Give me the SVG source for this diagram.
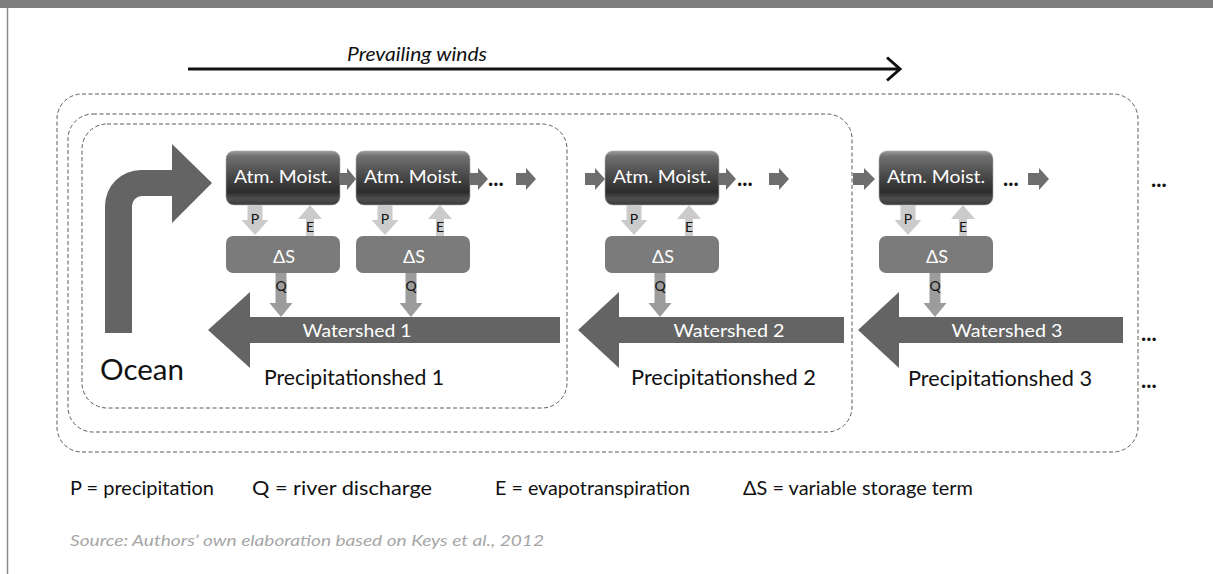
<svg xmlns="http://www.w3.org/2000/svg" width="1213" height="574" viewBox="0 0 1213 574">
<defs>
<linearGradient id="atmg" x1="0" y1="0" x2="0" y2="1">
<stop offset="0" stop-color="#9c9c9c"/>
<stop offset="0.1" stop-color="#707070"/>
<stop offset="0.45" stop-color="#4a4a4a"/>
<stop offset="0.76" stop-color="#2c2c2c"/>
<stop offset="0.88" stop-color="#4e4e4e"/>
<stop offset="1" stop-color="#3a3a3a"/>
</linearGradient>
</defs>
<style>
.dash{fill:none;stroke:#5a5a5a;stroke-width:1;stroke-dasharray:4 2.5}
.atm{fill:url(#atmg);stroke:#a8a8a8;stroke-width:0.6}
.ds{fill:#7b7b7b}
.t{font-family:Lato,"Liberation Sans",sans-serif}
.wt{fill:#ffffff;font-size:18px;text-anchor:middle}
.pe{fill:#cbcbcb}
.q{fill:#9c9c9c}
.lbl{font-size:14px;fill:#111111;text-anchor:middle}
.big{fill:#646464}
.sm{fill:#6e6e6e}
.dots{font-size:22px;font-weight:bold;fill:#111111}
.blk{fill:#111111}
.leg{font-size:19px}
</style>
<rect x="0" y="0" width="1213" height="8" fill="#7f7f7f"/>
<line x1="7.5" y1="8" x2="7.5" y2="574" stroke="#8a8a8a" stroke-width="1.5"/>

<g id="winds">
<text class="t blk" x="347" y="61" font-size="19" font-style="italic" textLength="140" lengthAdjust="spacingAndGlyphs">Prevailing winds</text>
<line x1="188" y1="69" x2="899" y2="69" stroke="#111" stroke-width="3"/>
<polyline points="887,57.5 900,69 887,80.5" fill="none" stroke="#111" stroke-width="3"/>
</g>

<g id="regions">
<rect class="dash" x="57" y="94" width="1081" height="358" rx="25"/>
<rect class="dash" x="68" y="114" width="784" height="318" rx="25"/>
<rect class="dash" x="82" y="124" width="485" height="284" rx="25"/>
</g>

<g id="ocean">
<path class="big" d="M105,333 L105,206 A36,36 0 0 1 141,170 L172,170 L172,144 L212,183 L172,223 L172,196 L142,196 A10,10 0 0 0 132,206 L132,333 Z"/>
<text class="t blk" x="100" y="380" font-size="28" textLength="84" lengthAdjust="spacingAndGlyphs">Ocean</text>
</g>

<g id="watershed1">
<path class="big" d="M560,317 H250 V292 L208,330 L250,368 V343 H560 Z"/>
<text class="t wt" x="357" y="337" textLength="109" lengthAdjust="spacingAndGlyphs">Watershed 1</text>
</g>
<g id="watershed2">
<path class="big" d="M844,317 H619 V292 L578,330 L619,368 V343 H844 Z"/>
<text class="t wt" x="729" y="337" textLength="111" lengthAdjust="spacingAndGlyphs">Watershed 2</text>
</g>
<g id="watershed3">
<path class="big" d="M1123,317 H899 V292 L858,330 L899,368 V343 H1123 Z"/>
<text class="t wt" x="1007" y="337" textLength="111" lengthAdjust="spacingAndGlyphs">Watershed 3</text>
</g>

<g id="precip1"><text class="t blk" x="264" y="385" font-size="21" textLength="180" lengthAdjust="spacingAndGlyphs">Precipitationshed 1</text></g>
<g id="precip2"><text class="t blk" x="631" y="385" font-size="21" textLength="185" lengthAdjust="spacingAndGlyphs">Precipitationshed 2</text></g>
<g id="precip3"><text class="t blk" x="908" y="386" font-size="21" textLength="184" lengthAdjust="spacingAndGlyphs">Precipitationshed 3</text></g>

<g id="atm1"><rect class="atm" x="226" y="151" width="114" height="54" rx="8"/><text class="t wt" x="283" y="183" textLength="98" lengthAdjust="spacingAndGlyphs">Atm. Moist.</text></g>
<g id="atm2"><rect class="atm" x="356" y="151" width="114" height="54" rx="8"/><text class="t wt" x="413" y="183" textLength="98" lengthAdjust="spacingAndGlyphs">Atm. Moist.</text></g>
<g id="atm3"><rect class="atm" x="605" y="151" width="114" height="54" rx="8"/><text class="t wt" x="662" y="183" textLength="98" lengthAdjust="spacingAndGlyphs">Atm. Moist.</text></g>
<g id="atm4"><rect class="atm" x="879" y="151" width="114" height="54" rx="8"/><text class="t wt" x="936" y="183" textLength="98" lengthAdjust="spacingAndGlyphs">Atm. Moist.</text></g>

<g id="ds1"><rect class="ds" x="226" y="236" width="114" height="37" rx="7"/><text class="t wt" x="284" y="263">ΔS</text></g>
<g id="ds2"><rect class="ds" x="356" y="236" width="114" height="37" rx="7"/><text class="t wt" x="414" y="263">ΔS</text></g>
<g id="ds3"><rect class="ds" x="605" y="236" width="114" height="37" rx="7"/><text class="t wt" x="663" y="263">ΔS</text></g>
<g id="ds4"><rect class="ds" x="879" y="236" width="114" height="37" rx="7"/><text class="t wt" x="937" y="263">ΔS</text></g>

<g id="connectors">
<path class="pe" d="M247.5,205 H262.5 V220 H268.5 L255,235 L241.5,220 H247.5 Z"/>
<path class="pe" d="M377.5,205 H392.5 V220 H398.5 L385,235 L371.5,220 H377.5 Z"/>
<path class="pe" d="M626.5,205 H641.5 V220 H647.5 L634,235 L620.5,220 H626.5 Z"/>
<path class="pe" d="M900.5,205 H915.5 V220 H921.5 L908,235 L894.5,220 H900.5 Z"/>
<path class="pe" d="M306,236 V219 H298 L310,205 L322,219 H314 V236 Z"/>
<path class="pe" d="M436,236 V219 H428 L440,205 L452,219 H444 V236 Z"/>
<path class="pe" d="M685,236 V219 H677 L689,205 L701,219 H693 V236 Z"/>
<path class="pe" d="M959,236 V219 H951 L963,205 L975,219 H967 V236 Z"/>
<path class="q" d="M275.5,273 H286.5 V303 H292.5 L281,317 L269.5,303 H275.5 Z"/>
<path class="q" d="M405.5,273 H416.5 V303 H422.5 L411,317 L399.5,303 H405.5 Z"/>
<path class="q" d="M654.5,273 H665.5 V303 H671.5 L660,317 L648.5,303 H654.5 Z"/>
<path class="q" d="M929.5,273 H940.5 V303 H946.5 L935,317 L923.5,303 H929.5 Z"/>
<path class="sm" d="M340,173 H347 V168 L356,179 L347,190 V185 H340 Z"/>
<path class="sm" d="M470,173 H478 V168 L488,179 L478,190 V185 H470 Z"/>
<path class="sm" d="M516,173 H526 V168 L536,179 L526,190 V185 H516 Z"/>
<path class="sm" d="M585,173 H595 V168 L605,179 L595,190 V185 H585 Z"/>
<path class="sm" d="M719,173 H726 V168 L736,179 L726,190 V185 H719 Z"/>
<path class="sm" d="M769,173 H779 V168 L789,179 L779,190 V185 H769 Z"/>
<path class="sm" d="M853,173 H864 V168 L875,179 L864,190 V185 H853 Z"/>
<path class="sm" d="M1028,173 H1039 V168 L1049,179 L1039,190 V185 H1028 Z"/>
</g>

<g id="flow-labels">
<text class="t lbl" x="255" y="224">P</text>
<text class="t lbl" x="385" y="224">P</text>
<text class="t lbl" x="634" y="224">P</text>
<text class="t lbl" x="908" y="224">P</text>
<text class="t lbl" x="310" y="232">E</text>
<text class="t lbl" x="440" y="232">E</text>
<text class="t lbl" x="689" y="232">E</text>
<text class="t lbl" x="963" y="232">E</text>
<text class="t lbl" x="281" y="291">Q</text>
<text class="t lbl" x="411" y="291">Q</text>
<text class="t lbl" x="660" y="291">Q</text>
<text class="t lbl" x="935" y="291">Q</text>
</g>

<g id="ellipses">
<text class="t dots" x="488" y="186">...</text>
<text class="t dots" x="737" y="186">...</text>
<text class="t dots" x="1003" y="186">...</text>
<text class="t dots" x="1151" y="187">...</text>
<text class="t dots" x="1141" y="341">...</text>
<text class="t dots" x="1141" y="388">...</text>
</g>

<g id="legend">
<text class="t blk leg" x="70" y="495" textLength="144" lengthAdjust="spacingAndGlyphs">P = precipitation</text>
<text class="t blk leg" x="252" y="495" textLength="180" lengthAdjust="spacingAndGlyphs">Q = river discharge</text>
<text class="t blk leg" x="495" y="495" textLength="195" lengthAdjust="spacingAndGlyphs">E = evapotranspiration</text>
<text class="t blk leg" x="743" y="495" textLength="230" lengthAdjust="spacingAndGlyphs">ΔS = variable storage term</text>
</g>
<g id="source">
<text class="t" x="70" y="546" font-size="16" font-style="italic" fill="#a6a6a6" textLength="474" lengthAdjust="spacingAndGlyphs">Source: Authors’ own elaboration based on Keys et al., 2012</text>
</g>
</svg>
